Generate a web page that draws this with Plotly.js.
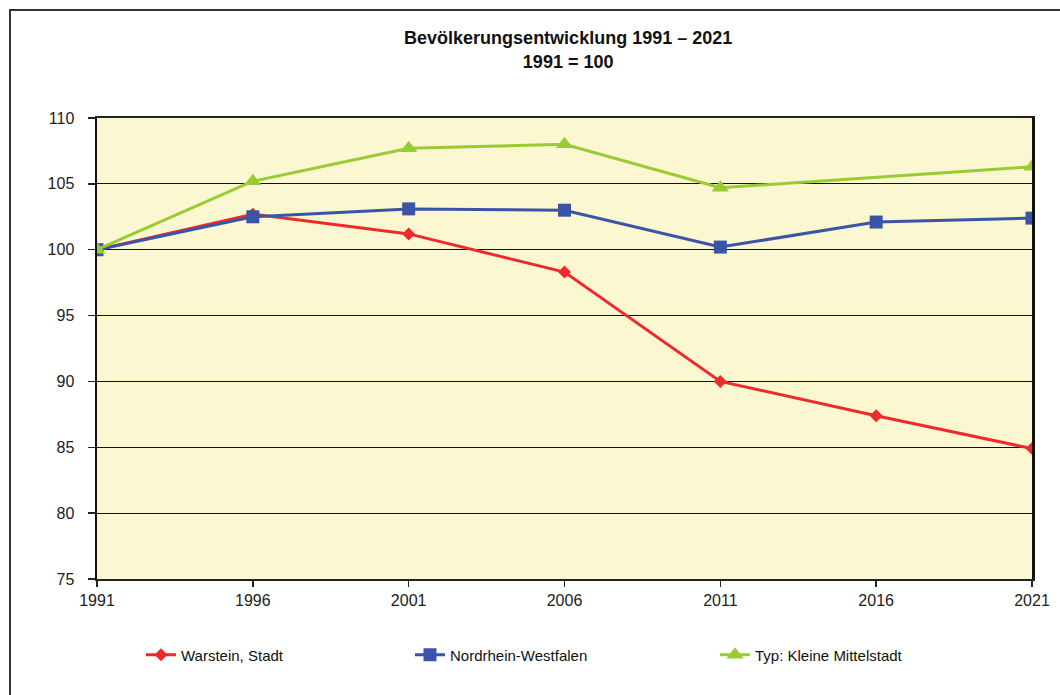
<!DOCTYPE html>
<html>
<head>
<meta charset="utf-8">
<script src="https://cdn.plot.ly/plotly-3.0.1.min.js"></script>
<style>html,body{margin:0;padding:0;background:#fff;}#chart{width:1060px;height:695px;}</style>
</head>
<body>
<div id="chart"></div>
<script>
const years = [1991, 1996, 2001, 2006, 2011, 2016, 2021];
const warstein = [100, 102.7, 101.2, 98.3, 90.0, 87.4, 84.9];
const nrw = [100, 102.5, 103.1, 103.0, 100.2, 102.1, 102.4];
const kleineMittelstadt = [100, 105.2, 107.7, 108.0, 104.7, null, 106.3];
const seriesNames = ["Warstein, Stadt", "Nordrhein-Westfalen", "Typ: Kleine Mittelstadt"];
const yTicks = [75, 80, 85, 90, 95, 100, 105, 110];

const font = "Liberation Sans, Arial, sans-serif";

const traces = [
  {x: years, y: warstein, name: seriesNames[0], type: "scatter", mode: "lines+markers",
   line: {color: "#EE2A2A", width: 3}, marker: {symbol: "diamond", size: 10, color: "#EE2A2A"}, legend: "legend"},
  {x: years, y: nrw, name: seriesNames[1], type: "scatter", mode: "lines+markers",
   line: {color: "#3A55A8", width: 3}, marker: {symbol: "square", size: 13, color: "#3A55A8"}, legend: "legend2"},
  {x: years, y: kleineMittelstadt, name: seriesNames[2], type: "scatter", mode: "lines+markers", connectgaps: true,
   line: {color: "#99CC33", width: 3}, marker: {symbol: "triangle-up", size: 15, color: "#99CC33"}, legend: "legend3"}
];

const plotL = 97, plotR = 1032, plotT = 118, plotB = 579;
const W = plotR - plotL, H = plotB - plotT;
function px(x) { return (x - plotL) / W; }
function py(y) { return (plotB - y) / H; }

const legendBase = {orientation: "h", yanchor: "middle", xanchor: "left", y: py(655),
  font: {family: font, size: 15, color: "#111"}, bgcolor: "rgba(0,0,0,0)", borderwidth: 0,
  itemclick: false, itemdoubleclick: false};

const layout = {
  width: 1060, height: 695,
  margin: {l: plotL, r: 1060 - plotR, t: plotT, b: 695 - plotB},
  paper_bgcolor: "#ffffff",
  plot_bgcolor: "#FBF7D0",
  title: {text: "<b>Bevölkerungsentwicklung 1991 – 2021</b><br><b>1991 = 100</b>",
    font: {family: font, size: 18, color: "#111"}, x: 0.536, xanchor: "center", y: 0.936, yanchor: "middle"},
  xaxis: {range: [1991, 2021], tickvals: years, ticktext: years.map(String), showgrid: false, zeroline: false,
    showline: true, linecolor: "#222", linewidth: 2, mirror: true, ticks: "outside", ticklen: 6, tickwidth: 1.5, tickcolor: "#222",
    tickfont: {family: font, size: 16, color: "#222"}, fixedrange: true},
  yaxis: {range: [75, 110], tickvals: yTicks, showgrid: true, gridcolor: "#111", gridwidth: 1.2, zeroline: false,
    showline: true, linecolor: "#111", linewidth: 2.5, mirror: true, ticks: "outside", ticklen: 7, tickwidth: 1.5, tickcolor: "#222",
    ticklabelstandoff: 10,
    tickfont: {family: font, size: 16, color: "#222"}, fixedrange: true},
  legend: Object.assign({}, legendBase, {x: px(141)}),
  legend2: Object.assign({}, legendBase, {x: px(410)}),
  legend3: Object.assign({}, legendBase, {x: px(715)}),
  showlegend: true,
  shapes: [{type: "rect", xref: "paper", yref: "paper", x0: px(10), x1: px(1100), y0: py(10), y1: py(760),
    line: {color: "#333", width: 2}, fillcolor: "rgba(0,0,0,0)", layer: "below"}]
};

Plotly.newPlot("chart", traces, layout, {displayModeBar: false, staticPlot: true});
</script>
</body>
</html>
